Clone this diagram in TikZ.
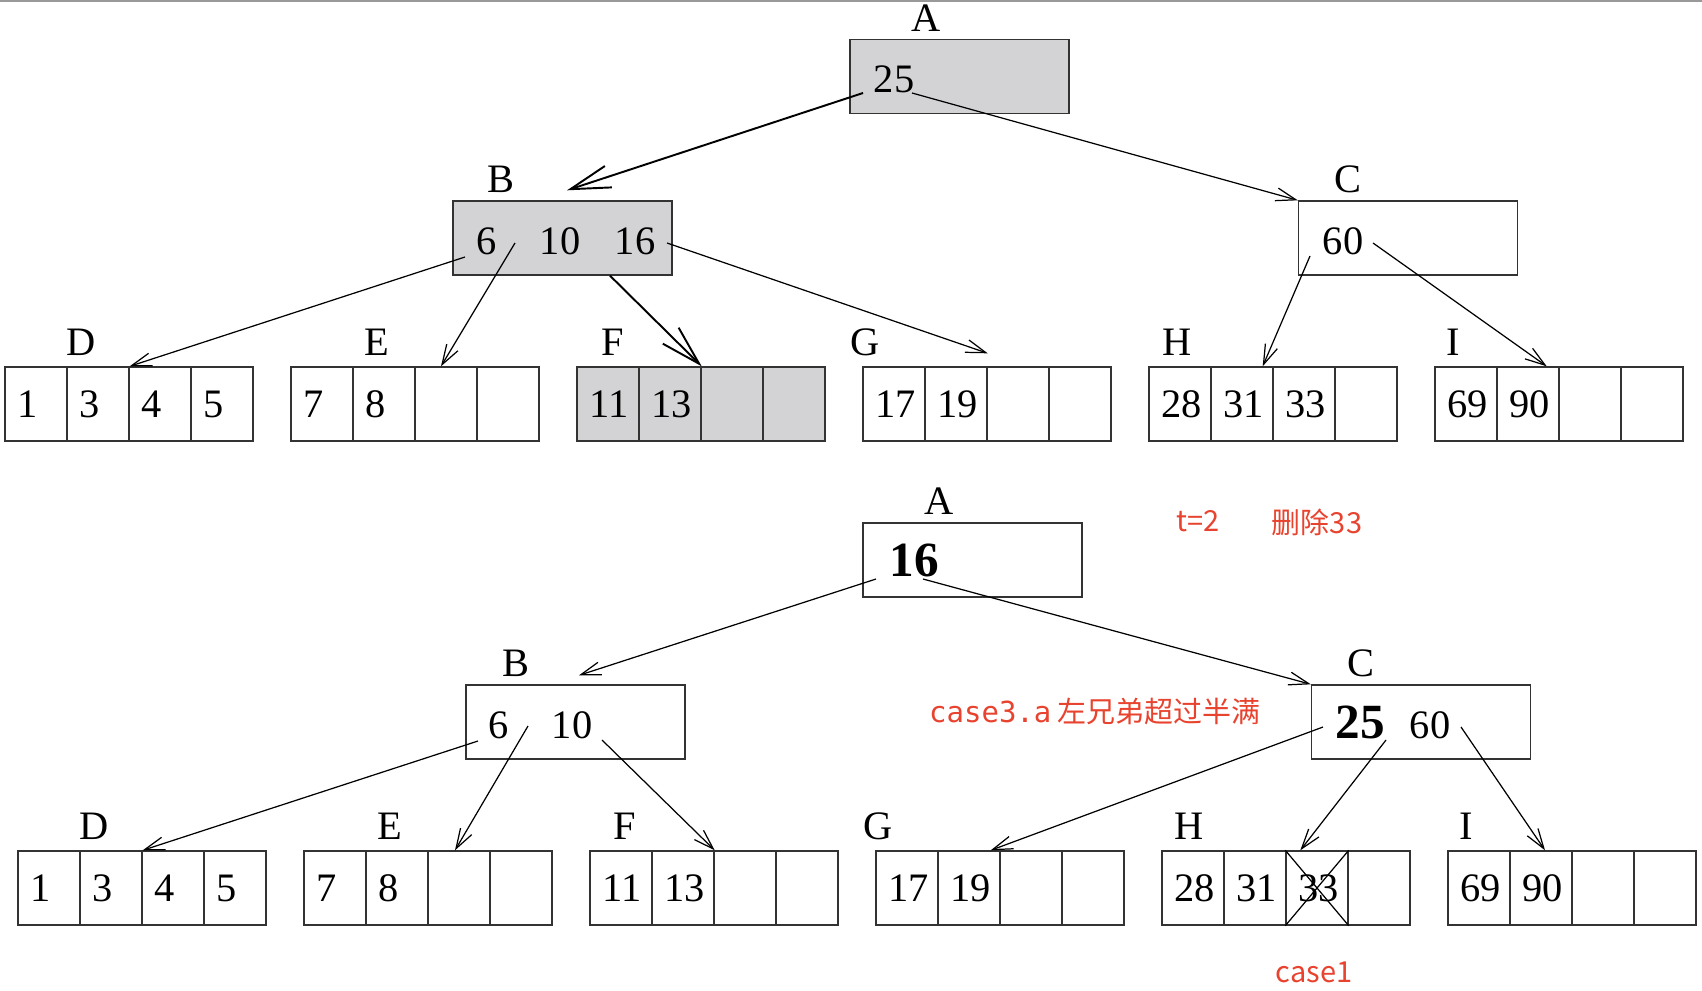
\documentclass[tikz,border=0pt]{standalone}
\usepackage{fontspec}
\setmainfont{Liberation Serif}
\newfontfamily\cjk{Noto Sans CJK SC}
\newfontfamily\monofont{DejaVu Sans Mono}
\usetikzlibrary{arrows.meta, calc}

\begin{document}
\begin{tikzpicture}[x=0.02cm, y=-0.02cm,
        keyfont/.style={font=\fontsize{23}{27}\selectfont},
        inner/.style={draw=black!80, line width=0.8pt, minimum width=4.38cm, minimum height=1.48cm, inner sep=0pt},
        cell/.style={draw=black!80, line width=0.8pt, text width=0.74cm, align=left, minimum height=1.48cm,
            inner xsep=0.25cm, inner ysep=0pt, keyfont},
        key/.style={inner sep=0pt, keyfont},
        bigkey/.style={inner sep=0pt, font=\fontsize{28}{32}\selectfont\bfseries},
        lbl/.style={inner sep=0pt, keyfont},
        ptr/.style={line width=0.7pt, -{Straight Barb[length=4mm, width=2.6mm]}},
        bigptr/.style={line width=1.1pt, -{Straight Barb[length=8mm, width=4.5mm]}},
        note/.style={text=notered, font=\cjk\fontsize{16.5}{20}\selectfont, inner sep=0pt}]
    \definecolor{keygray}{RGB}{211,211,213}
    \definecolor{notered}{RGB}{232,67,46}

    \useasboundingbox (0,0) rectangle (1702,990);
    \draw[black!40, line width=1pt] (0,1) -- (1702,1);

    % before: t=2, delete 33
    \node[inner, fill=keygray] (tA) at (959.5,76.5) {};
    \node[key] (tA25) at (894,79) {25};
    \node[lbl] (tlA) at (926,18) {A};
    \node[inner, fill=keygray] (tB) at (562.5,238) {};
    \node[key] (tB6) at (487,241) {6};
    \node[key] (tB10) at (560,241) {10};
    \node[key] (tB16) at (635,241) {16};
    \node[lbl] (tlB) at (501,179) {B};
    \node[inner] (tC) at (1408,238) {};
    \node[key] (tC60) at (1343,241) {60};
    \node[lbl] (tlC) at (1348,179) {C};

    \foreach \n/\lx/\off/\col/\keys in {D/5/76/white/{1,3,4,5}, E/291/86/white/{7,8,{},{}},
            F/577/36/keygray/{11,13,{},{}}, G/863/2/white/{17,19,{},{}},
            H/1149/28/white/{28,31,33,{}}, I/1435/18/white/{69,90,{},{}}}{
        \foreach \k [count=\i] in \keys
            \node[cell, fill=\col] (t\n\i) at (\lx+62*\i-31, 404) {\k};
        \node[lbl] (tl\n) at (\lx+\off, 342) {\n};
    }

    \draw[bigptr] ($(tA25.center)+(-31,14)$) -- ($(tB.north)+(4.5,-10)$);
    \draw[ptr] ($(tA25.center)+(18,14)$) -- (tC.north west);
    \draw[ptr] ($(tB6.center)+(-22,16)$) -- (tD2.north east);
    \draw[ptr] ($(tB6.center)+(28,2)$) -- ($(tE3.north)+(-5,0)$);
    \draw[bigptr] ($(tB.south)+(47.5,0)$) -- (tF2.north east);
    \draw[ptr] ($(tB16.center)+(32,2)$) -- ($(tG2.north east)+(0,-13)$);
    \draw[ptr] ($(tC60.center)+(-33,15)$) -- ($(tH2.north east)+(-11,0)$);
    \draw[ptr] ($(tC60.center)+(30,2)$) -- ($(tI2.north east)+(-13,0)$);

    % after: borrow from left sibling
    \node[inner] (bA) at (972.5,560) {};
    \node[bigkey] (bA16) at (914,560) {16};
    \node[lbl] (blA) at (939,501) {A};
    \node[inner] (bB) at (575.5,722) {};
    \node[key] (bB6) at (499,725) {6};
    \node[key] (bB10) at (572,725) {10};
    \node[lbl] (blB) at (516,663) {B};
    \node[inner] (bC) at (1421,722) {};
    \node[bigkey] (bC25) at (1360,722) {25};
    \node[key] (bC60) at (1430,725) {60};
    \node[lbl] (blC) at (1361,663) {C};

    \foreach \n/\lx/\off/\keys in {D/18/76/{1,3,4,5}, E/304/86/{7,8,{},{}},
            F/590/35/{11,13,{},{}}, G/876/2/{17,19,{},{}},
            H/1162/27/{28,31,33,{}}, I/1448/18/{69,90,{},{}}}{
        \foreach \k [count=\i] in \keys
            \node[cell] (b\n\i) at (\lx+62*\i-31, 888) {\k};
        \node[lbl] (bl\n) at (\lx+\off, 826) {\n};
    }
    \draw[line width=0.7pt] (bH3.north west) -- (bH3.south east) (bH3.south west) -- (bH3.north east);

    \draw[ptr] ($(bA16.center)+(-38,19)$) -- ($(bB.north)+(3.5,-9)$);
    \draw[ptr] ($(bA16.center)+(9,19)$) -- (bC.north west);
    \draw[ptr] ($(bB6.center)+(-21,16)$) -- (bD2.north east);
    \draw[ptr] ($(bB6.center)+(29,1)$) -- ($(bE3.north)+(-4,0)$);
    \draw[ptr] ($(bB10.center)+(30,15)$) -- (bF2.north east);
    \draw[ptr] ($(bC25.center)+(-37,5)$) -- ($(bG2.north east)+(-10,0)$);
    \draw[ptr] ($(bC25.center)+(26,18)$) -- ($(bH3.north west)+(15,0)$);
    \draw[ptr] ($(bC60.center)+(31,2)$) -- ($(bI2.north)+(4,0)$);

    % notes
    \node[note] (nt) at (1198,521) {t=2};
    \node[note] (ndel) at (1317,522) {删除33};
    \node[note] (ncase) at (1095,711) {{\monofont case3.a} 左兄弟超过半满};
    \node[note] (ncase1) at (1314,972) {case1};
\end{tikzpicture}
\end{document}
